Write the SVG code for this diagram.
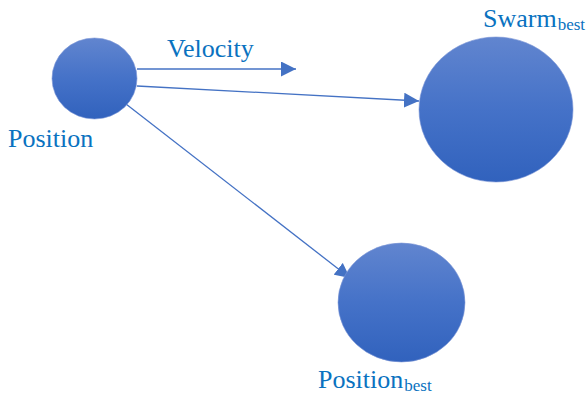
<svg xmlns="http://www.w3.org/2000/svg" width="587" height="394" viewBox="0 0 587 394">
  <defs>
    <linearGradient id="ball" x1="0" y1="0" x2="0" y2="1">
      <stop offset="0" stop-color="#6185cf"/>
      <stop offset="0.5" stop-color="#4572c8"/>
      <stop offset="1" stop-color="#3162bd"/>
    </linearGradient>
    <marker id="arrow" viewBox="0 0 10 10" refX="10" refY="5" markerWidth="15" markerHeight="15" markerUnits="userSpaceOnUse" orient="auto">
      <path d="M0,0 L10,5 L0,10 z" fill="#4472c4"/>
    </marker>
  </defs>
  <style>
    .node { fill: url(#ball); stroke: #7d97d6; stroke-width: 0.6; }
    .edge { stroke: #4472c4; stroke-width: 1.3; fill: none; marker-end: url(#arrow); }
    .label { font-family: "Liberation Serif", "Times New Roman", serif; fill: #0a72c0; font-size: 26px; }
    .sub { font-size: 17px; }
  </style>

  <g id="connectors">
    <line class="edge" x1="137" y1="69" x2="296" y2="69"/>
    <line class="edge" x1="137" y1="86" x2="419" y2="101"/>
    <line class="edge" x1="126" y1="104" x2="350" y2="278"/>
  </g>

  <g id="position">
    <ellipse class="node" cx="94.5" cy="78.5" rx="42.5" ry="40.5"/>
    <text class="label" x="8" y="147">Position</text>
  </g>

  <g id="velocity">
    <text class="label" x="167" y="57">Velocity</text>
  </g>

  <g id="swarm-best">
    <ellipse class="node" cx="496" cy="109.5" rx="77" ry="72.5"/>
    <text class="label" x="483" y="27">Swarm<tspan class="sub" dx="1" dy="2.5">best</tspan></text>
  </g>

  <g id="position-best">
    <ellipse class="node" cx="401.5" cy="302.5" rx="63.5" ry="59.5"/>
    <text class="label" x="318" y="388">Position<tspan class="sub" dx="1" dy="2.5">best</tspan></text>
  </g>
</svg>
